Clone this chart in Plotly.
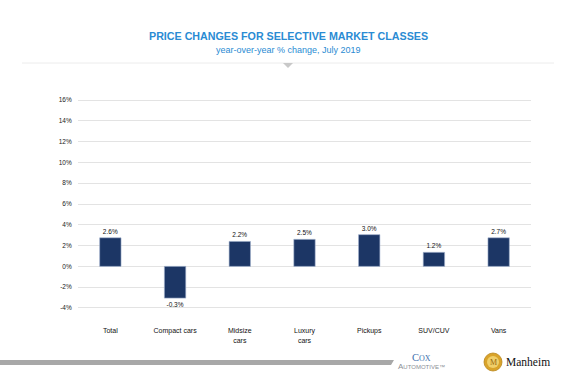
import plotly.graph_objects as go

categories = ["Total", "Compact cars", "Midsize<br>cars", "Luxury<br>cars", "Pickups", "SUV/CUV", "Vans"]
values = [2.75, -3.05, 2.4, 2.6, 3.05, 1.35, 2.75]
value_labels = ["2.6%", "-0.3%", "2.2%", "2.5%", "3.0%", "1.2%", "2.7%"]
y_ticks = [-4, -2, 0, 2, 4, 6, 8, 10, 12, 14, 16]
y_tick_labels = [f"{v}%" for v in y_ticks]

W, H = 576, 390
L, R, T, B = 78, 531, 99, 309

def px(x):
    return (x - L) / (R - L)

def py(y):
    return (B - y) / (B - T)

BLUE = "#2a8bd3"
FONT = "Liberation Sans Narrow, Liberation Sans, Arial"

fig = go.Figure(go.Bar(
    x=categories, y=values,
    text=value_labels, textposition="outside",
    textfont=dict(size=6.5, color="#111", family=FONT),
    marker=dict(color="#1c3665", line=dict(color="#9fb0cc", width=0.6)),
    width=0.33, cliponaxis=False,
))

fig.update_layout(
    width=W, height=H,
    margin=dict(l=L, r=W - R, t=T, b=H - B),
    paper_bgcolor="white", plot_bgcolor="white",
    showlegend=False,
    font=dict(family=FONT, color="#222"),
    xaxis=dict(
        showgrid=False, showline=False, ticks="outside", ticklen=15,
        tickcolor="rgba(0,0,0,0)", tickfont=dict(size=7, color="#111"),
        range=[-0.5, 6.5],
    ),
    yaxis=dict(
        range=[-4.1, 16.1], tickvals=y_ticks, ticktext=y_tick_labels,
        showgrid=True, gridcolor="#e3e3e3", gridwidth=1,
        zeroline=True, zerolinecolor="#e3e3e3", zerolinewidth=1,
        showline=False, tickfont=dict(size=6.5, color="#222"),
        ticks="outside", ticklen=4, tickcolor="rgba(0,0,0,0)",
    ),
    shapes=[
        dict(type="line", xref="paper", yref="paper", x0=px(22), x1=px(554), y0=py(63), y1=py(63),
             line=dict(color="#ececec", width=1)),
        dict(type="path", xref="paper", yref="paper",
             path=f"M {px(283)} {py(63)} L {px(293)} {py(63)} L {px(288)} {py(68)} Z",
             fillcolor="#c8c8c8", line=dict(width=0)),
        dict(type="path", xref="paper", yref="paper",
             path=f"M {px(0)} {py(360)} L {px(394)} {py(360)} L {px(391)} {py(365)} L {px(0)} {py(365)} Z",
             fillcolor="#a8a8a8", line=dict(width=0)),
        dict(type="circle", xref="paper", yref="paper",
             x0=px(484), x1=px(502), y0=py(371), y1=py(353),
             fillcolor="#d9a32a", line=dict(color="#b9861c", width=0.8)),
        dict(type="circle", xref="paper", yref="paper",
             x0=px(487), x1=px(499), y0=py(368), y1=py(356),
             fillcolor="#f0cf6a", line=dict(width=0)),
    ],
    annotations=[
        dict(text="<b>PRICE CHANGES FOR SELECTIVE MARKET CLASSES</b>", xref="paper", yref="paper",
             x=px(288), y=py(36), showarrow=False, xanchor="center", yanchor="middle",
             font=dict(size=10.7, color=BLUE, family="Liberation Sans, Arial")),
        dict(text="year-over-year % change, July 2019", xref="paper", yref="paper",
             x=px(288), y=py(50), showarrow=False, xanchor="center", yanchor="middle",
             font=dict(size=9, color=BLUE, family="Liberation Sans, Arial")),
        dict(text="C<span style='font-size:8px'>OX</span>", xref="paper", yref="paper", x=px(421), y=py(357),
             showarrow=False, xanchor="center", yanchor="middle",
             font=dict(size=10.5, color="#3e6fae", family="Liberation Serif, Times New Roman")),
        dict(text="A<span style='font-size:6px'>UTOMOTIVE™</span>", xref="paper", yref="paper", x=px(421), y=py(366),
             showarrow=False, xanchor="center", yanchor="middle",
             font=dict(size=8, color="#8a8f96", family="Liberation Sans, Arial")),
        dict(text="M", xref="paper", yref="paper", x=px(493), y=py(362), showarrow=False,
             xanchor="center", yanchor="middle",
             font=dict(size=8, color="#9a6a10", family="Liberation Serif")),
        dict(text="Manheim", xref="paper", yref="paper", x=px(504), y=py(362), showarrow=False,
             xanchor="left", yanchor="middle",
             font=dict(size=11.5, color="#111", family="Liberation Serif, Times New Roman")),
    ],
)

fig.write_html("out.html", config={"displayModeBar": False},
               post_script="document.body.style.margin='0';")
